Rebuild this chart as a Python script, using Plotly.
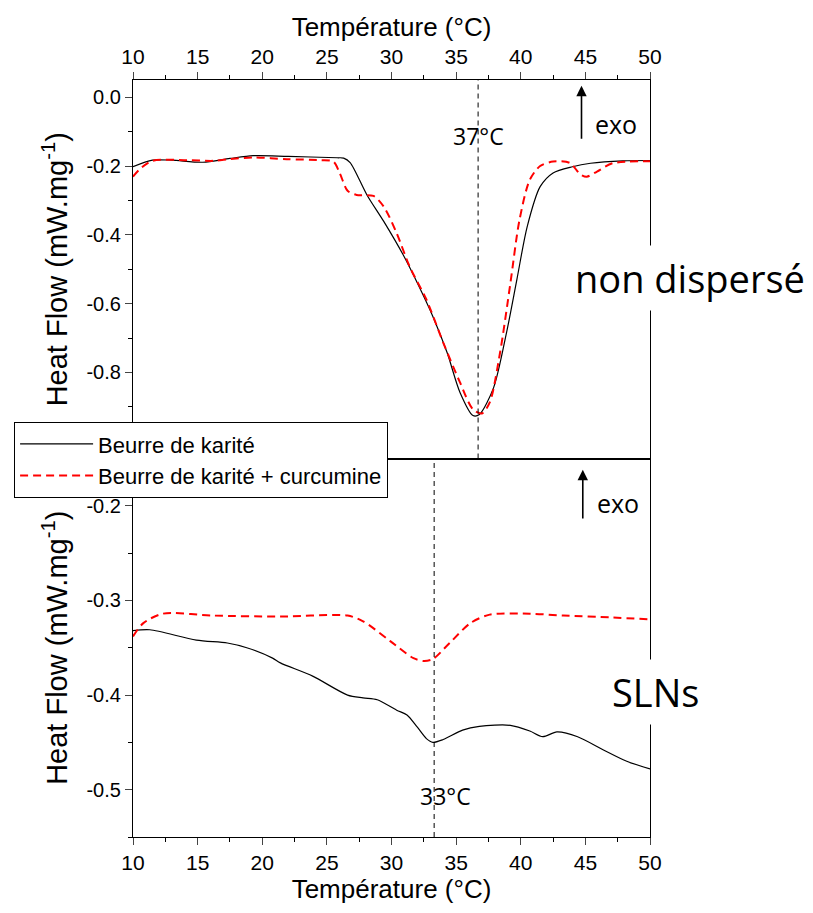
import plotly.graph_objects as go
from plotly.subplots import make_subplots

# ---- data: top panel (non dispersé) ----
t_top_karite = [10.0, 11.5, 13.0, 15.4, 17.5, 19.3, 22.0, 25.8, 26.3, 26.8, 28.1, 29.4, 30.9, 32.0,
                33.2, 34.3, 35.3, 36.3, 36.8, 37.9, 38.9, 39.7, 40.5, 41.5, 42.5, 44.0, 45.4, 47.9, 50.0]
hf_top_karite = [-0.202, -0.183, -0.183, -0.189, -0.178, -0.170, -0.172, -0.176, -0.177, -0.190, -0.284,
                 -0.361, -0.458, -0.540, -0.637, -0.742, -0.858, -0.925, -0.922, -0.844, -0.684, -0.530,
                 -0.376, -0.260, -0.220, -0.202, -0.192, -0.185, -0.184]

t_top_curc = [10.0, 10.5, 11.5, 14.2, 16.2, 17.5, 19.3, 21.9, 24.5, 25.5, 26.0, 26.6, 27.3, 28.6, 29.4,
              30.4, 31.4, 32.7, 34.0, 35.3, 36.3, 37.0, 37.6, 38.4, 39.2, 39.9, 40.7, 41.5, 42.5, 43.8,
              44.6, 45.1, 45.9, 47.1, 50.0]
hf_top_curc = [-0.231, -0.210, -0.185, -0.183, -0.185, -0.180, -0.175, -0.180, -0.183, -0.187, -0.221,
               -0.272, -0.284, -0.287, -0.318, -0.395, -0.492, -0.588, -0.713, -0.829, -0.907, -0.919,
               -0.887, -0.742, -0.540, -0.357, -0.240, -0.200, -0.187, -0.191, -0.224, -0.231, -0.216,
               -0.192, -0.186]

# ---- data: bottom panel (SLNs) ----
t_bot_karite = [10.0, 11.3, 14.9, 17.3, 18.8, 20.8, 21.4, 23.9, 26.6, 27.8, 28.9, 30.4, 31.2, 32.0,
                32.7, 33.2, 34.0, 35.5, 36.8, 39.2, 40.7, 41.7, 42.8, 44.4, 46.4, 48.2, 50.0]
hf_bot_karite = [-0.332, -0.331, -0.342, -0.345, -0.350, -0.361, -0.366, -0.380, -0.400, -0.403, -0.405,
                 -0.416, -0.421, -0.434, -0.446, -0.450, -0.447, -0.437, -0.433, -0.432, -0.438, -0.444,
                 -0.439, -0.444, -0.458, -0.470, -0.478]

t_bot_curc = [10.0, 10.8, 12.3, 16.2, 21.4, 26.6, 27.8, 29.9, 31.7, 32.5, 33.2, 34.5, 36.1, 37.6,
              40.7, 43.3, 47.1, 50.0]
hf_bot_curc = [-0.338, -0.324, -0.314, -0.316, -0.317, -0.316, -0.322, -0.343, -0.361, -0.364, -0.362,
               -0.345, -0.324, -0.315, -0.314, -0.316, -0.318, -0.320]

x_ticks = [10, 15, 20, 25, 30, 35, 40, 45, 50]
y_top_ticks = [0.0, -0.2, -0.4, -0.6, -0.8]
y_top_labels = ["0.0", "-0.2", "-0.4", "-0.6", "-0.8"]
y_bot_ticks = [-0.2, -0.3, -0.4, -0.5]
y_bot_labels = ["-0.2", "-0.3", "-0.4", "-0.5"]
peak_top = 36.7
peak_bot = 33.3
series_names = ["Beurre de karité", "Beurre de karité + curcumine"]

fig = make_subplots(rows=2, cols=1, vertical_spacing=0)

black_line = dict(color="black", width=1.2, shape="spline", smoothing=0.8)
red_line = dict(color="#ff0000", width=2, dash="8px,5px", shape="spline", smoothing=0.8)

fig.add_trace(go.Scatter(x=t_top_karite, y=hf_top_karite, mode="lines", name=series_names[0],
                         line=black_line, legendgroup="a"), row=1, col=1)
fig.add_trace(go.Scatter(x=t_top_curc, y=hf_top_curc, mode="lines", name=series_names[1],
                         line=red_line, legendgroup="b"), row=1, col=1)
fig.add_trace(go.Scatter(x=t_bot_karite, y=hf_bot_karite, mode="lines", name=series_names[0],
                         line=black_line, legendgroup="a", showlegend=False), row=2, col=1)
fig.add_trace(go.Scatter(x=t_bot_curc, y=hf_bot_curc, mode="lines", name=series_names[1],
                         line=red_line, legendgroup="b", showlegend=False), row=2, col=1)

tickfont_x = dict(family="Liberation Sans Narrow, Arial Narrow, Liberation Sans, Arial", size=21, color="black")
tickfont_y = dict(family="Liberation Sans, Arial", size=20, color="black")
title_x_font = dict(family="Liberation Sans Narrow, Arial Narrow, Liberation Sans, Arial", size=26, color="black")
title_y_font = dict(family="Liberation Sans, Arial", size=29, color="black")

common_x = dict(range=[10, 50], tickvals=x_ticks, ticks="outside", ticklen=7, tickwidth=1.2,
                showline=True, linecolor="black", linewidth=1.2, mirror=True, showgrid=False,
                zeroline=False, tickfont=tickfont_x,
                minor=dict(dtick=2.5, ticks="outside", ticklen=4, tickcolor="black"))
fig.update_xaxes(**common_x, side="top",
                 title=dict(text="Température (°C)", font=title_x_font, standoff=0), row=1, col=1)
fig.update_xaxes(**common_x, side="bottom",
                 title=dict(text="Température (°C)", font=title_x_font, standoff=2), row=2, col=1)

common_y = dict(ticks="outside", ticklen=7, tickwidth=1.2, showline=True, linecolor="black",
                linewidth=1.2, mirror=True, showgrid=False, zeroline=False, tickfont=tickfont_y)
fig.update_yaxes(**common_y, range=[-1.05, 0.05], tickvals=y_top_ticks, ticktext=y_top_labels,
                 minor=dict(dtick=0.1, tick0=0, ticks="outside", ticklen=4, tickcolor="black"),
                 title=dict(text="Heat Flow (mW.mg<sup>-1</sup>)", font=title_y_font, standoff=10),
                 row=1, col=1)
fig.update_yaxes(**common_y, range=[-0.55, -0.15], tickvals=y_bot_ticks, ticktext=y_bot_labels,
                 minor=dict(dtick=0.05, tick0=0, ticks="outside", ticklen=4, tickcolor="black"),
                 title=dict(text="Heat Flow (mW.mg<sup>-1</sup>)", font=title_y_font, standoff=10),
                 row=2, col=1)

# vertical dashed peak lines
fig.add_shape(type="line", xref="x", yref="y domain", x0=peak_top, x1=peak_top, y0=0, y1=1,
              line=dict(color="black", width=1, dash="5px,4px"))
fig.add_shape(type="line", xref="x2", yref="y2 domain", x0=peak_bot, x1=peak_bot, y0=0, y1=1,
              line=dict(color="black", width=1, dash="5px,4px"))

lbl_font = dict(family="Open Sans, Noto Sans, Liberation Sans", size=23, color="black")
fig.add_annotation(x=peak_top, y=-0.113, xref="x", yref="y", text="37°C", showarrow=False,
                   font=lbl_font)
fig.add_annotation(x=peak_bot + 0.9, y=-0.507, xref="x2", yref="y2", text="33°C", showarrow=False,
                   font=lbl_font)

# exo arrows
fig.add_annotation(x=44.7, y=0.033, xref="x", yref="y", ax=44.7, ay=-0.125, axref="x", ayref="y",
                   text="", showarrow=True, arrowhead=2, arrowsize=1.3, arrowwidth=1.6, arrowcolor="black")
fig.add_annotation(x=47.4, y=-0.077, xref="x", yref="y", text="exo", showarrow=False,
                   font=dict(family="Open Sans, Noto Sans, Liberation Sans", size=25, color="black"))
fig.add_annotation(x=44.8, y=-0.162, xref="x2", yref="y2", ax=44.8, ay=-0.215, axref="x2", ayref="y2",
                   text="", showarrow=True, arrowhead=2, arrowsize=1.3, arrowwidth=1.6, arrowcolor="black")
fig.add_annotation(x=47.5, y=-0.1975, xref="x2", yref="y2", text="exo", showarrow=False,
                   font=dict(family="Open Sans, Noto Sans, Liberation Sans", size=25, color="black"))

big_font = dict(family="Open Sans, Noto Sans, Liberation Sans", size=38, color="black")
fig.add_annotation(x=1.077, y=0.738, xref="paper", yref="paper", text="non dispersé", showarrow=False,
                   xanchor="center", yanchor="middle", font=big_font, bgcolor="white", borderpad=6)
fig.add_annotation(x=1.01, y=0.192, xref="paper", yref="paper", text="SLNs", showarrow=False,
                   xanchor="center", yanchor="middle", font=big_font, bgcolor="white", borderpad=6)

fig.update_layout(
    width=805, height=905,
    margin=dict(l=125, r=163, t=72, b=76, autoexpand=False),
    paper_bgcolor="white", plot_bgcolor="white",
    showlegend=True,
    legend=dict(x=-0.230, y=0.548, xanchor="left", yanchor="top", bgcolor="white",
                bordercolor="black", borderwidth=1,
                font=dict(family="Liberation Sans, Arial", size=22, color="black"),
                tracegroupgap=0, itemwidth=73),
)

fig.write_html("out.html")
